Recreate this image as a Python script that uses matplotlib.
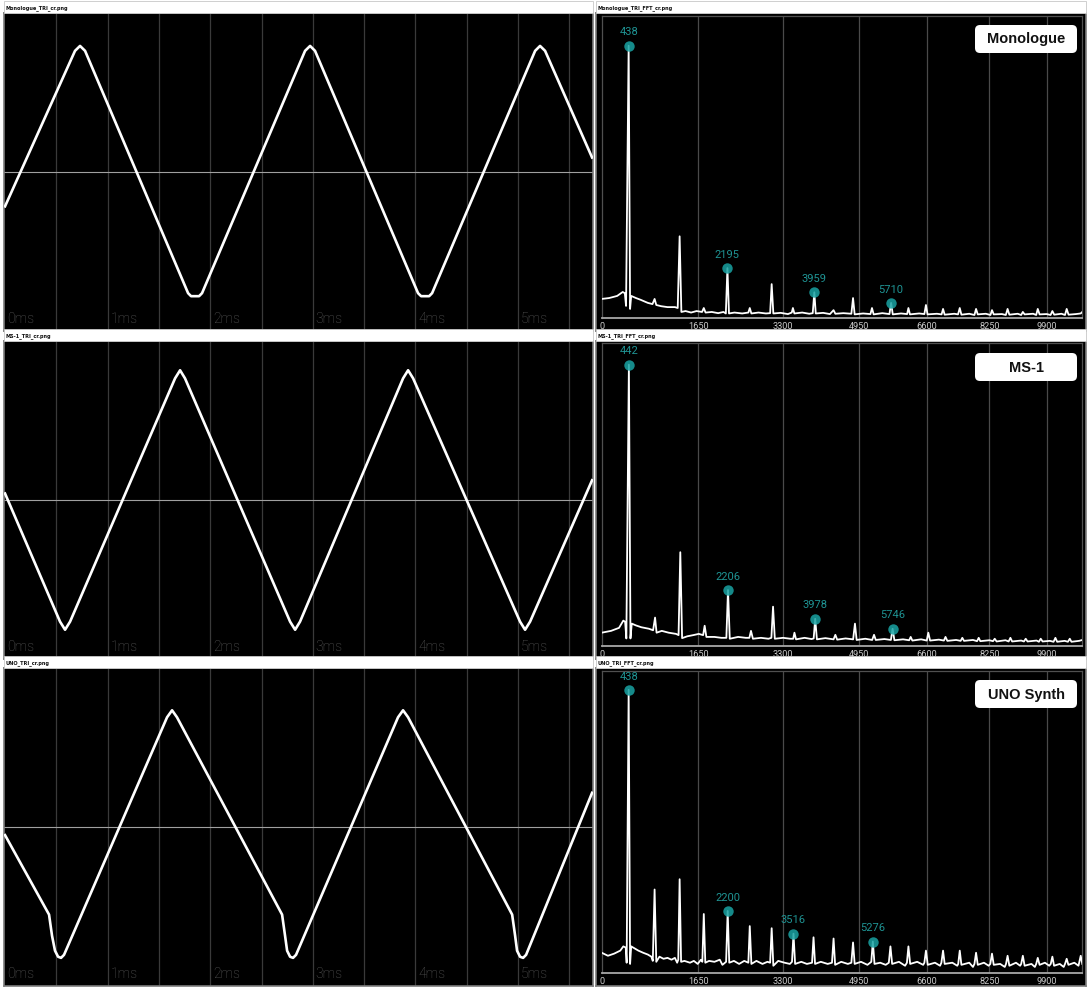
import numpy as np
import matplotlib
matplotlib.use("Agg")
import matplotlib.pyplot as plt
from matplotlib.patches import FancyBboxPatch, Rectangle
from matplotlib.transforms import IdentityTransform, blended_transform_factory

W, H = 1090, 991

SYNTHS = ["Monologue", "MS-1", "UNO Synth"]
WAVE_FILES = ["Monologue_TRI_cr.png", "MS-1_TRI_cr.png", "UNO_TRI_cr.png"]
FFT_FILES = ["Monologue_TRI_FFT_cr.png", "MS-1_TRI_FFT_cr.png", "UNO_TRI_FFT_cr.png"]
MS_TICKS = [0, 1, 2, 3, 4, 5]
FREQ_TICKS = [0, 1650, 3300, 4950, 6600, 8250, 9900]

# waveform vertices: (time in ms, normalised level)
mono_wave = [(0.0, -0.216), (0.682, 0.762), (0.731, 0.793), (0.780, 0.762),
             (1.784, -0.762), (1.813, -0.781), (1.891, -0.781), (1.920, -0.762),
             (2.924, 0.762), (2.973, 0.793), (3.021, 0.762),
             (4.025, -0.762), (4.055, -0.781), (4.133, -0.781), (4.162, -0.762),
             (5.166, 0.762), (5.214, 0.793), (5.263, 0.762), (5.721, 0.091)]
ms1_wave = [(0.0, 0.041), (0.536, -0.765), (0.585, -0.816), (0.634, -0.765),
            (1.657, 0.765), (1.706, 0.816), (1.754, 0.765),
            (2.778, -0.765), (2.827, -0.816), (2.875, -0.765),
            (3.879, 0.765), (3.928, 0.816), (3.977, 0.765),
            (5.019, -0.765), (5.068, -0.816), (5.117, -0.765), (5.721, 0.124)]
uno_wave = [(0.0, -0.051), (0.429, -0.551), (0.458, -0.684), (0.487, -0.778),
            (0.517, -0.816), (0.546, -0.823), (0.575, -0.804),
            (1.579, 0.690), (1.628, 0.734), (1.676, 0.690),
            (2.700, -0.551), (2.729, -0.684), (2.749, -0.778), (2.778, -0.816),
            (2.807, -0.823), (2.836, -0.804),
            (3.830, 0.690), (3.879, 0.734), (3.928, 0.690),
            (4.942, -0.551), (4.971, -0.684), (4.990, -0.778), (5.019, -0.816),
            (5.049, -0.823), (5.078, -0.804), (5.721, 0.215)]

# spectra: (frequency Hz, level 0-100)
mono_fft = [(0, 6.3), (120, 6.6), (250, 7.3), (340, 8.6), (375, 8.2), (395, 4.0), (438, 90),
            (462, 3.0), (480, 7.3), (560, 6.6), (640, 6.0), (760, 5.0), (840, 4.6), (876, 6.3),
            (905, 4.3), (990, 3.9), (1100, 3.6), (1230, 3.6), (1280, 3.3), (1314, 27), (1345, 2.0),
            (1420, 2.3), (1520, 1.8), (1620, 2.3), (1720, 2.0), (1752, 3.3), (1785, 1.8),
            (1900, 2.0), (2020, 1.6), (2120, 2.0), (2165, 1.5), (2195, 16.5), (2225, 1.5),
            (2330, 1.8), (2480, 1.5), (2600, 1.8), (2628, 3.3), (2660, 1.5), (2800, 1.8),
            (2950, 1.5), (3035, 1.6), (3066, 11.2), (3100, 1.5), (3250, 1.7), (3400, 1.3),
            (3480, 1.8), (3504, 3.3), (3535, 1.5), (3700, 1.8), (3850, 1.4), (3925, 1.6),
            (3959, 8.5), (3990, 1.5), (4150, 1.7), (4300, 1.3), (4380, 2.6), (4420, 1.4),
            (4600, 1.6), (4780, 1.4), (4818, 6.6), (4855, 1.2), (5050, 1.5), (5220, 1.3),
            (5256, 3.3), (5295, 1.2), (5500, 1.6), (5670, 1.3), (5710, 5.0), (5750, 1.2),
            (5950, 1.5), (6100, 1.3), (6132, 3.3), (6170, 1.2), (6400, 1.5), (6530, 1.3),
            (6570, 4.3), (6610, 1.2), (6850, 1.4), (6970, 1.2), (7008, 3.0), (7050, 1.1),
            (7300, 1.4), (7400, 1.2), (7446, 3.3), (7490, 1.1), (7700, 1.4), (7840, 1.0),
            (7884, 3.0), (7930, 1.2), (8150, 1.4), (8280, 1.0), (8322, 2.6), (8370, 1.2),
            (8600, 1.3), (8710, 1.0), (8760, 3.0), (8810, 1.1), (9050, 1.4), (9150, 1.0),
            (9198, 2.0), (9250, 1.2), (9500, 1.4), (9590, 1.0), (9636, 3.0), (9690, 1.2),
            (9900, 1.3), (10020, 1.0), (10074, 2.3), (10130, 1.1), (10350, 1.4), (10460, 1.0),
            (10512, 3.0), (10570, 1.1), (10800, 1.3), (10950, 1.5), (11000, 2.0)]
ms1_fft = [(0, 4.4), (150, 5.0), (280, 6.0), (350, 8.4), (380, 8.0), (400, 2.5), (442, 93),
           (468, 2.5), (490, 7.4), (560, 6.8), (650, 6.2), (780, 5.7), (850, 5.2), (884, 9.4),
           (910, 4.4), (1000, 5.0), (1120, 4.4), (1250, 4.0), (1295, 3.6), (1326, 31), (1358, 2.6),
           (1450, 3.2), (1560, 3.6), (1660, 4.0), (1740, 3.6), (1768, 6.7), (1800, 3.0),
           (1950, 3.0), (2080, 2.7), (2175, 2.7), (2206, 18.5), (2240, 2.4), (2400, 3.0),
           (2550, 2.7), (2620, 2.7), (2652, 5.0), (2690, 2.4), (2850, 2.7), (3000, 2.4),
           (3060, 2.7), (3094, 13), (3130, 2.4), (3300, 2.7), (3450, 2.4), (3510, 2.4),
           (3536, 4.4), (3570, 2.2), (3750, 2.7), (3900, 2.3), (3945, 2.5), (3978, 9.0),
           (4015, 2.2), (4200, 2.6), (4380, 2.2), (4420, 3.7), (4460, 2.1), (4650, 2.5),
           (4820, 2.2), (4862, 7.4), (4900, 2.0), (5100, 2.4), (5260, 2.0), (5304, 3.7),
           (5345, 2.0), (5550, 2.3), (5705, 2.0), (5746, 5.7), (5790, 1.9), (6000, 2.2),
           (6150, 1.9), (6188, 3.0), (6230, 1.8), (6450, 2.2), (6590, 1.8), (6630, 4.4),
           (6675, 1.8), (6900, 2.1), (7030, 1.8), (7072, 3.0), (7120, 1.7), (7350, 2.0),
           (7470, 1.7), (7514, 2.7), (7560, 1.7), (7800, 2.0), (7910, 1.6), (7956, 2.7),
           (8000, 1.6), (8250, 1.9), (8350, 1.6), (8398, 2.4), (8450, 1.5), (8700, 1.9),
           (8790, 1.5), (8840, 2.7), (8890, 1.5), (9150, 1.8), (9230, 1.5), (9282, 2.4),
           (9335, 1.5), (9600, 1.8), (9670, 1.4), (9724, 2.4), (9780, 1.5), (10000, 1.7),
           (10110, 1.4), (10166, 2.7), (10220, 1.4), (10450, 1.7), (10550, 1.4), (10608, 2.4),
           (10660, 1.4), (10900, 1.7), (11000, 2.0)]
uno_fft = [(0, 6.7), (100, 5.7), (200, 6.4), (300, 7.4), (350, 8.8), (390, 8.4), (405, 3.4),
           (438, 93.6), (462, 3.0), (480, 8.8), (540, 8.1), (600, 7.4), (680, 6.7), (760, 6.1),
           (820, 5.4), (845, 4.0), (876, 27.6), (905, 3.7), (960, 5.4), (1030, 4.7), (1100, 5.0),
           (1170, 4.4), (1230, 5.0), (1270, 3.4), (1290, 4.4), (1314, 31), (1340, 3.7),
           (1400, 4.0), (1500, 3.4), (1570, 4.0), (1640, 3.0), (1700, 4.4), (1725, 3.7),
           (1752, 19.5), (1780, 3.4), (1850, 4.0), (1950, 3.7), (2050, 4.4), (2100, 2.7),
           (2170, 3.7), (2200, 20.5), (2230, 3.4), (2320, 4.0), (2420, 3.0), (2520, 4.0),
           (2600, 3.4), (2628, 15.5), (2660, 3.0), (2760, 4.0), (2880, 3.0), (2980, 3.7),
           (3035, 3.4), (3066, 14.8), (3100, 2.4), (3200, 4.0), (3330, 3.4), (3440, 3.0),
           (3485, 3.7), (3516, 13), (3550, 3.0), (3680, 3.7), (3800, 3.0), (3910, 3.4),
           (3942, 11.8), (3975, 3.0), (4100, 3.7), (4250, 3.0), (4345, 3.4), (4380, 11.4),
           (4415, 2.7), (4550, 3.7), (4700, 3.0), (4780, 3.4), (4818, 10.1), (4855, 3.0),
           (5000, 3.7), (5150, 2.7), (5240, 3.7), (5276, 10.4), (5315, 3.0), (5450, 3.4),
           (5580, 2.7), (5655, 3.4), (5694, 8.8), (5735, 3.0), (5900, 3.7), (6050, 2.4),
           (6095, 3.4), (6132, 8.8), (6175, 3.0), (6350, 3.7), (6500, 2.7), (6530, 3.4),
           (6570, 7.4), (6615, 2.7), (6800, 3.4), (6930, 2.4), (6965, 3.4), (7008, 7.4),
           (7050, 3.0), (7250, 3.4), (7380, 2.4), (7405, 3.0), (7446, 7.4), (7490, 2.7),
           (7700, 3.4), (7800, 2.0), (7840, 3.0), (7884, 6.7), (7930, 2.7), (8100, 3.4),
           (8230, 2.4), (8275, 3.0), (8322, 6.4), (8370, 2.7), (8550, 3.0), (8680, 2.0),
           (8715, 3.0), (8760, 5.7), (8810, 2.4), (9000, 3.4), (9120, 2.4), (9150, 3.0),
           (9198, 5.7), (9250, 2.4), (9450, 3.0), (9550, 2.0), (9590, 3.0), (9636, 5.0),
           (9690, 2.7), (9850, 3.4), (9980, 2.4), (10025, 3.0), (10074, 5.4), (10125, 2.4),
           (10300, 3.0), (10420, 2.0), (10460, 3.0), (10512, 4.7), (10565, 2.7), (10750, 3.4),
           (10880, 2.4), (10950, 5.7), (11000, 3.0)]

# labelled peaks
mono_marks_f = [438, 2195, 3959, 5710]
mono_marks_a = [90, 16.5, 8.5, 5.0]
ms1_marks_f = [442, 2206, 3978, 5746]
ms1_marks_a = [93, 18.5, 9.0, 5.7]
uno_marks_f = [438, 2200, 3516, 5276]
uno_marks_a = [93.6, 20.5, 13, 10.4]

WAVES = [mono_wave, ms1_wave, uno_wave]
FFTS = [mono_fft, ms1_fft, uno_fft]
MARKS = [(mono_marks_f, mono_marks_a), (ms1_marks_f, ms1_marks_a), (uno_marks_f, uno_marks_a)]
ROW_TOP = [0, 328, 655]

TEAL = "#19a3a3"
TEAL_TXT = "#1f9494"


def fwd(f):
    return np.log1p(np.asarray(f, dtype=float) / 11200.0)


def inv(x):
    return 11200.0 * np.expm1(np.asarray(x, dtype=float))


fig = plt.figure(figsize=(W / 100, H / 100), dpi=100, facecolor="white")


def px_axes(x0, y0, x1, y1):
    return fig.add_axes([x0 / W, 1 - y1 / H, (x1 - x0) / W, (y1 - y0) / H])


def style_box(ax, color="#7c7c7c", lw=1.2):
    ax.set_xticks([]); ax.set_yticks([])
    for s in ax.spines.values():
        s.set_color(color); s.set_linewidth(lw)


for i, T in enumerate(ROW_TOP):
    # file-name strips
    for x0, x1, name in [(4, 593, WAVE_FILES[i]), (596, 1086, FFT_FILES[i])]:
        fig.add_artist(Rectangle((x0, H - (T + 13)), x1 - x0, 12, transform=IdentityTransform(),
                                 fc="white", ec="#c8c8c8", lw=0.6))
        fig.text((x0 + 2) / W, 1 - (T + 8) / H, name, fontsize=3.6, fontweight="bold",
                 va="center", ha="left", color="#111111")

    # waveform panel
    ax = px_axes(4, T + 13, 593, T + 331)
    ax.set_facecolor("black")
    ax.set_xlim(-0.01, 5.73); ax.set_ylim(-1, 1)
    for t in np.arange(0.5, 5.73, 0.5):
        ax.axvline(t, color="#3a3a3a", lw=0.9, zorder=1)
    ax.axhline(0, color="#a0a0a0", lw=0.8, zorder=2)
    t, v = zip(*WAVES[i])
    ax.plot(t, v, color="white", lw=1.9, solid_joinstyle="round", zorder=3)
    tr = blended_transform_factory(ax.transData, ax.transAxes)
    for m in MS_TICKS:
        ax.text(m + 0.025, 0.016, f"{m}ms", transform=tr, fontsize=10, color="#5a5a5a",
                family="Roboto", fontweight="light", va="bottom", ha="left")
    style_box(ax)

    # spectrum panel
    bg = px_axes(596, T + 13, 1086, T + 331)
    bg.set_facecolor("black")
    style_box(bg)

    fx = px_axes(601.7, T + 15.5, 1082.3, T + 318)
    fx.set_facecolor("black")
    fx.set_xscale("function", functions=(fwd, inv))
    fx.set_xlim(0, 11000); fx.set_ylim(0, 100)
    fx.set_xticks(FREQ_TICKS)
    fx.set_xticklabels([str(f) for f in FREQ_TICKS])
    fx.set_yticks([])
    fx.tick_params(axis="x", length=0, pad=3.0, labelsize=6.6, labelcolor="#c8c8c8")
    for lab in fx.get_xticklabels():
        lab.set_family("Roboto")
    for f in FREQ_TICKS[1:]:
        fx.axvline(f, color="#4a4a4a", lw=0.9, zorder=1)
    for s in ["left", "top", "right"]:
        fx.spines[s].set_color("#505050"); fx.spines[s].set_linewidth(0.9)
    fx.spines["bottom"].set_color("#a8a8a8"); fx.spines["bottom"].set_linewidth(1.3)

    f, a = zip(*FFTS[i])
    fx.plot(f, a, color="white", lw=1.3, solid_joinstyle="round", zorder=3)
    mf, ma = MARKS[i]
    fx.plot(mf, ma, "o", ms=7.5, color=TEAL, alpha=0.85, mec="none", zorder=4)
    for x, y in zip(mf, ma):
        fx.annotate(str(x), (x, y), xytext=(0, 6.0), textcoords="offset points",
                    ha="center", va="bottom", fontsize=8, color=TEAL_TXT, family="Roboto")

    # synth name tag
    fig.add_artist(FancyBboxPatch((975, H - (T + 53)), 102, 28, transform=IdentityTransform(),
                                  boxstyle="round,pad=0,rounding_size=5", fc="white", ec="none"))
    fig.text(1026 / W, 1 - (T + 39.5) / H, SYNTHS[i], fontsize=10.5, fontweight="bold",
             family="Liberation Sans", ha="center", va="center", color="#111111")

fig.savefig("out.png", dpi=100, facecolor="white")
